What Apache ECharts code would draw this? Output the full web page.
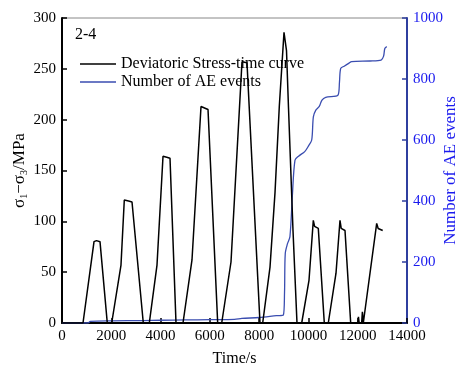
<!DOCTYPE html>
<html><head><meta charset="utf-8">
<script src="https://cdn.jsdelivr.net/npm/echarts@6/dist/echarts.min.js"></script>
<style>html,body{margin:0;padding:0;background:#fff}#c{width:459px;height:365px}</style>
</head><body><div id="c"></div>
<script>
// Deviatoric stress (time s, MPa)
const stressTime = [0,852,1299,1400,1542,1838,2017,2394,2528,2700,2841,3299,3543,3855,4099,4250,4383,4626,4910,5275,5641,5925,6318,6481,6858,7304,7507,8035,8144,8441,8643,8818,9009,9110,9191,9374,9536,9727,10023,10198,10250,10401,10644,10806,11119,11281,11330,11484,11715,12000,12030,12060,12160,12190,12227,12296,12770,12830,13014];
const stressVal  = [0,0,80,81,80,0,0,57,121,120,119,0,0,57,164,163,162,0,0,62,213,210,0,0,60,257,256,0,0,55,128,213,286,268,212,91,0,0,42,101,95,93,0,0,49,101,93,91,0,0,6,0,0,11,0,0,98,93,91];
// AE events (time s, count)
const aeTime = [0,1050,1150,2000,3300,4000,5000,6000,7000,7300,8000,8700,8980,9030,9060,9150,9250,9350,9455,9600,9850,10000,10133,10200,10300,10440,10550,10700,11200,11260,11310,11450,11650,11750,12500,12950,13050,13100,13180];
const aeVal  = [0,0,5,7,8,9,10,11,12,15,18,24,26,100,228,260,283,420,534,547,562,580,600,676,698,710,731,740,747,790,835,842,852,857,859,862,875,900,906];

const stressData = stressTime.map((t,i)=>[t,stressVal[i]]);
const aeData = aeTime.map((t,i)=>[t,aeVal[i]]);

const serif = 'Liberation Serif';
const blueAxis = '#2f3f9f';
const plain = v => String(v);
const chart = echarts.init(document.getElementById('c'), null, {renderer:'canvas'});
chart.setOption({
  animation:false,
  backgroundColor:'#fff',
  textStyle:{fontFamily:serif},
  grid:{left:62,right:52,top:18,bottom:42,containLabel:false,outerBoundsMode:'none',show:true,borderColor:'#888',borderWidth:1,backgroundColor:'transparent'},
  legend:{
    orient:'vertical',left:75,top:51,itemWidth:36,itemHeight:1.5,itemGap:2,icon:'rect',
    textStyle:{fontFamily:serif,fontSize:16,color:'#000'},
    data:['Deviatoric Stress-time curve','Number of AE events']
  },
  graphic:[{type:'text',left:75,top:27,style:{text:'2-4',font:'16px "Liberation Serif"',fill:'#000'}}],
  xAxis:{
    type:'value',min:0,max:14000,interval:2000,
    name:'Time/s',nameLocation:'middle',nameGap:28,nameMoveOverlap:false,
    nameTextStyle:{fontFamily:serif,fontSize:16,color:'#000'},
    axisLine:{show:true,lineStyle:{color:'#000',width:2}},
    axisTick:{show:true,inside:true,length:5,lineStyle:{color:'#000',width:1.5}},
    axisLabel:{fontFamily:serif,fontSize:15,color:'#000',margin:6,formatter:plain},
    splitLine:{show:false}
  },
  yAxis:[{
    type:'value',min:0,max:300,interval:50,position:'left',
    name:'{a|σ}{s|1}{a|−σ}{s|3}{a|/MPa}',nameLocation:'middle',nameGap:33,nameRotate:90,nameMoveOverlap:false,
    nameTextStyle:{rich:{a:{fontFamily:serif,fontSize:17,color:'#000'},s:{fontFamily:serif,fontSize:10,color:'#000',verticalAlign:'bottom',padding:[9,0,0,0]}}},
    axisLine:{show:true,lineStyle:{color:'#000',width:2}},
    axisTick:{show:true,inside:true,length:5,lineStyle:{color:'#000',width:1.5}},
    axisLabel:{fontFamily:serif,fontSize:15,color:'#000',margin:6,formatter:plain},
    splitLine:{show:false}
  },{
    type:'value',min:0,max:1000,interval:200,position:'right',
    name:'Number of AE events',nameLocation:'middle',nameGap:35,nameRotate:90,nameMoveOverlap:false,
    nameTextStyle:{fontFamily:serif,fontSize:17,color:'#1a1aee'},
    axisLine:{show:true,lineStyle:{color:blueAxis,width:2}},
    axisTick:{show:true,inside:true,length:5,lineStyle:{color:blueAxis,width:1.5}},
    axisLabel:{fontFamily:serif,fontSize:15,color:'#1a1aee',margin:6,formatter:plain},
    splitLine:{show:false}
  }],
  series:[{
    name:'Deviatoric Stress-time curve',type:'line',yAxisIndex:0,data:stressData,
    showSymbol:false,symbol:'none',lineStyle:{color:'#000',width:1.5},itemStyle:{color:'#000'},z:3
  },{
    name:'Number of AE events',type:'line',yAxisIndex:1,data:aeData,
    showSymbol:false,symbol:'none',smooth:0.3,lineStyle:{color:'#3a4db0',width:1.3},itemStyle:{color:'#3a4db0'},z:2
  }]
});
</script></body></html>
